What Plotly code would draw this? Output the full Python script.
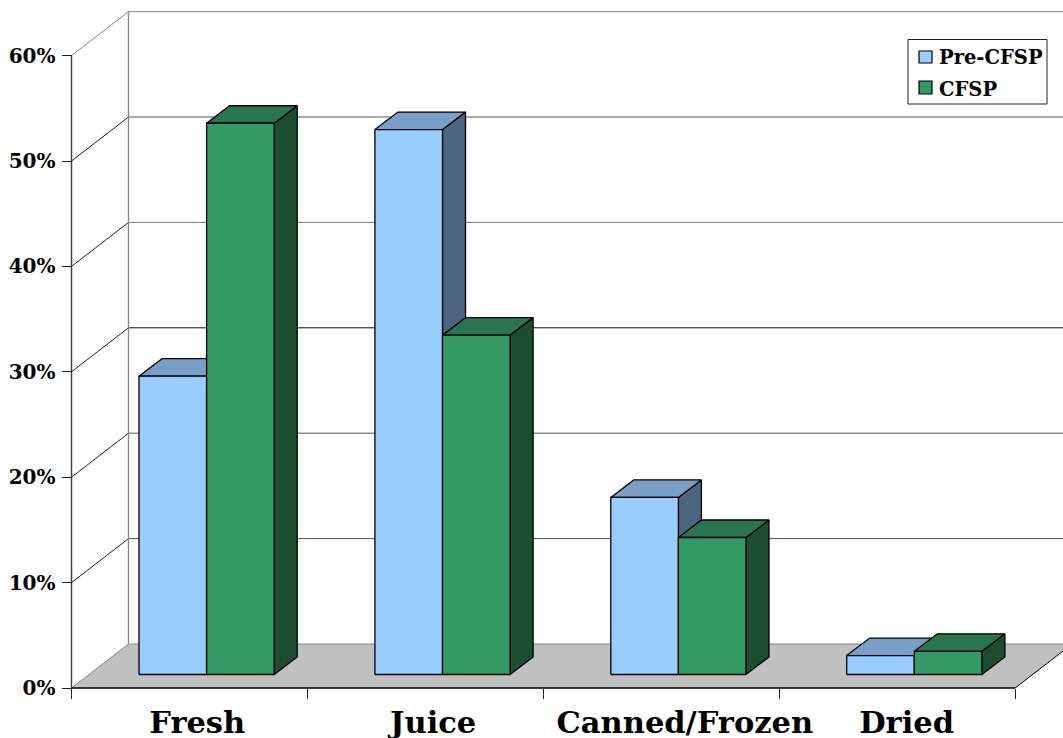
import plotly.graph_objects as go

# Share of servings by fruit form, in percent
categories = ["Fresh", "Juice", "Canned/Frozen", "Dried"]
pre_cfsp = [28.3, 51.7, 16.8, 1.8]
cfsp = [52.3, 32.2, 13.0, 2.2]
y_ticks = [0, 10, 20, 30, 40, 50, 60]
y_tick_labels = ["0%", "10%", "20%", "30%", "40%", "50%", "60%"]
x_label_positions = [0.533, 1.533, 2.6, 3.54]

# Canvas and axis calibration
WIDTH, HEIGHT = 1063, 738
AXIS_LEFT, AXIS_BOTTOM = 71.5, 688.0
PX_PER_CAT, PX_PER_PCT = 235.9, 10.54

# Oblique projection offsets, in axis units
WALL_DX, WALL_DY = 57 / PX_PER_CAT, 44 / PX_PER_PCT
BAR_DX, BAR_DY = 23 / PX_PER_CAT, 17.5 / PX_PER_PCT
BAR_BASE = 13.5 / PX_PER_PCT
BAR_START = 67.5 / PX_PER_CAT
BAR_WIDTH = 67.6 / PX_PER_CAT

X_MIN, X_MAX = -AXIS_LEFT / PX_PER_CAT, (WIDTH - AXIS_LEFT) / PX_PER_CAT
Y_MIN, Y_MAX = (AXIS_BOTTOM - HEIGHT) / PX_PER_PCT, AXIS_BOTTOM / PX_PER_PCT
N_CATS = len(categories)

FONT = "DejaVu Serif"
FLOOR = "#C0C0C0"
WALL_EDGE = "#888888"
INK = "#000000"
# Back wall rule and side wall diagonal colours, per tick from 0% upward
RULE_COLORS = ["#888888", "#555555", "#555555", "#111111", "#777777", "#555555", "#888888"]
DIAGONAL_COLORS = ["#888888", "#222222", "#222222", "#222222", "#222222", "#222222", "#888888"]
SERIES = [
    dict(name="Pre-CFSP", values=pre_cfsp, slot=0,
         front="#99CCFF", top="#7A9FC6", side="#4D6680"),
    dict(name="CFSP", values=cfsp, slot=1,
         front="#339966", top="#29754F", side="#1C4D33"),
]

# Legend frame and swatches, in canvas pixels
LEGEND_BOX = (908, 39.5, 1047, 104)
LEGEND_SWATCHES = [(919, 51, 932, 63), (919, 81, 932, 94)]


def polygons(shapes):
    """Join closed outlines into one None-separated x/y pair."""
    xs, ys = [], []
    for shape in shapes:
        xs += [p[0] for p in shape] + [shape[0][0], None]
        ys += [p[1] for p in shape] + [shape[0][1], None]
    return xs, ys


def add_faces(fig, shapes, fill, width=1.3):
    xs, ys = polygons(shapes)
    fig.add_trace(go.Scatter(
        x=xs, y=ys, mode="lines", fill="toself", fillcolor=fill,
        line=dict(color=INK, width=width), showlegend=False, hoverinfo="skip",
    ))


def add_line(fig, xs, ys, color, width=1.0):
    fig.add_trace(go.Scatter(
        x=xs, y=ys, mode="lines", line=dict(color=color, width=width),
        showlegend=False, hoverinfo="skip",
    ))


def paper_rect(box, fill, line_color, line_width):
    x0, y0, x1, y1 = box
    return dict(
        type="rect", xref="paper", yref="paper", layer="above",
        x0=x0 / WIDTH, x1=x1 / WIDTH, y0=1 - y0 / HEIGHT, y1=1 - y1 / HEIGHT,
        fillcolor=fill, line=dict(color=line_color, width=line_width),
    )


fig = go.Figure()

# Floor of the box
fig.add_trace(go.Scatter(
    x=[0, N_CATS, N_CATS + WALL_DX, WALL_DX, 0],
    y=[0, 0, WALL_DY, WALL_DY, 0],
    mode="lines", fill="toself", fillcolor=FLOOR, line=dict(width=0),
    showlegend=False, hoverinfo="skip",
))

# Side wall diagonals and back wall rules
for tick, rule, diagonal in zip(y_ticks, RULE_COLORS, DIAGONAL_COLORS):
    add_line(fig, [0, WALL_DX], [tick, tick + WALL_DY], diagonal)
    add_line(fig, [WALL_DX, X_MAX], [tick + WALL_DY, tick + WALL_DY], rule)
add_line(fig, [WALL_DX, WALL_DX], [WALL_DY, max(y_ticks) + WALL_DY], WALL_EDGE, width=1.4)
add_line(fig, [N_CATS, N_CATS + WALL_DX], [0, WALL_DY], INK)

# Bars: back faces first so each neighbour overlaps correctly
for series in SERIES:
    sides, tops, fronts = [], [], []
    for i, value in enumerate(series["values"]):
        x0 = i + BAR_START + series["slot"] * BAR_WIDTH
        x1 = x0 + BAR_WIDTH
        y0, y1 = BAR_BASE, BAR_BASE + value
        sides.append([(x1, y0), (x1 + BAR_DX, y0 + BAR_DY),
                      (x1 + BAR_DX, y1 + BAR_DY), (x1, y1)])
        tops.append([(x0, y1), (x1, y1),
                     (x1 + BAR_DX, y1 + BAR_DY), (x0 + BAR_DX, y1 + BAR_DY)])
        fronts.append([(x0, y0), (x1, y0), (x1, y1), (x0, y1)])
    add_faces(fig, sides, series["side"])
    add_faces(fig, tops, series["top"])
    add_faces(fig, fronts, series["front"])

# Front axis lines
add_line(fig, [0, 0], [0, max(y_ticks)], "#444444", width=1.5)
add_line(fig, [0, N_CATS], [0, 0], INK, width=1.3)

# Legend labels; the frame and colour keys are laid out as shapes
for series in SERIES:
    fig.add_trace(go.Scatter(
        x=[None], y=[None], mode="markers", name=series["name"],
        legendgroup=series["name"],
        marker=dict(symbol="square", size=1, color="rgba(0,0,0,0)",
                    line=dict(color="rgba(0,0,0,0)", width=0)),
    ))

legend_shapes = [paper_rect(LEGEND_BOX, "white", "#222222", 1)]
for box, series in zip(LEGEND_SWATCHES, SERIES):
    legend_shapes.append(paper_rect(box, series["front"], INK, 1.2))

fig.update_layout(
    width=WIDTH, height=HEIGHT,
    margin=dict(l=0, r=0, t=0, b=0, autoexpand=False),
    paper_bgcolor="white", plot_bgcolor="white",
    showlegend=True,
    shapes=legend_shapes,
    legend=dict(
        x=899 / WIDTH, y=1 - 37.5 / HEIGHT, xanchor="left", yanchor="top",
        bgcolor="rgba(0,0,0,0)", borderwidth=0,
        font=dict(family=FONT, size=19.5, color=INK, weight="bold"),
        traceorder="grouped", tracegroupgap=3, itemwidth=30,
    ),
    xaxis=dict(
        range=[X_MIN, X_MAX], domain=[0, 1],
        anchor="free", position=(HEIGHT - AXIS_BOTTOM) / HEIGHT,
        showgrid=False, zeroline=False, showline=False,
        tickmode="array", tickvals=x_label_positions, ticktext=categories,
        ticks="", ticklabelstandoff=13,
        tickfont=dict(family=FONT, size=30.5, color=INK, weight="bold"),
        minor=dict(ticks="outside", tickmode="array",
                   tickvals=list(range(N_CATS + 1)),
                   ticklen=10, tickwidth=1, tickcolor="#222222", showgrid=False),
    ),
    yaxis=dict(
        range=[Y_MIN, Y_MAX], domain=[0, 1],
        anchor="free", position=AXIS_LEFT / WIDTH,
        showgrid=False, zeroline=False, showline=False,
        tickmode="array", tickvals=y_ticks, ticktext=y_tick_labels,
        ticks="outside", ticklen=10, tickwidth=1, tickcolor="#222222",
        ticklabelstandoff=2,
        tickfont=dict(family=FONT, size=20, color=INK, weight="bold"),
    ),
)

fig.write_html("out.html")
